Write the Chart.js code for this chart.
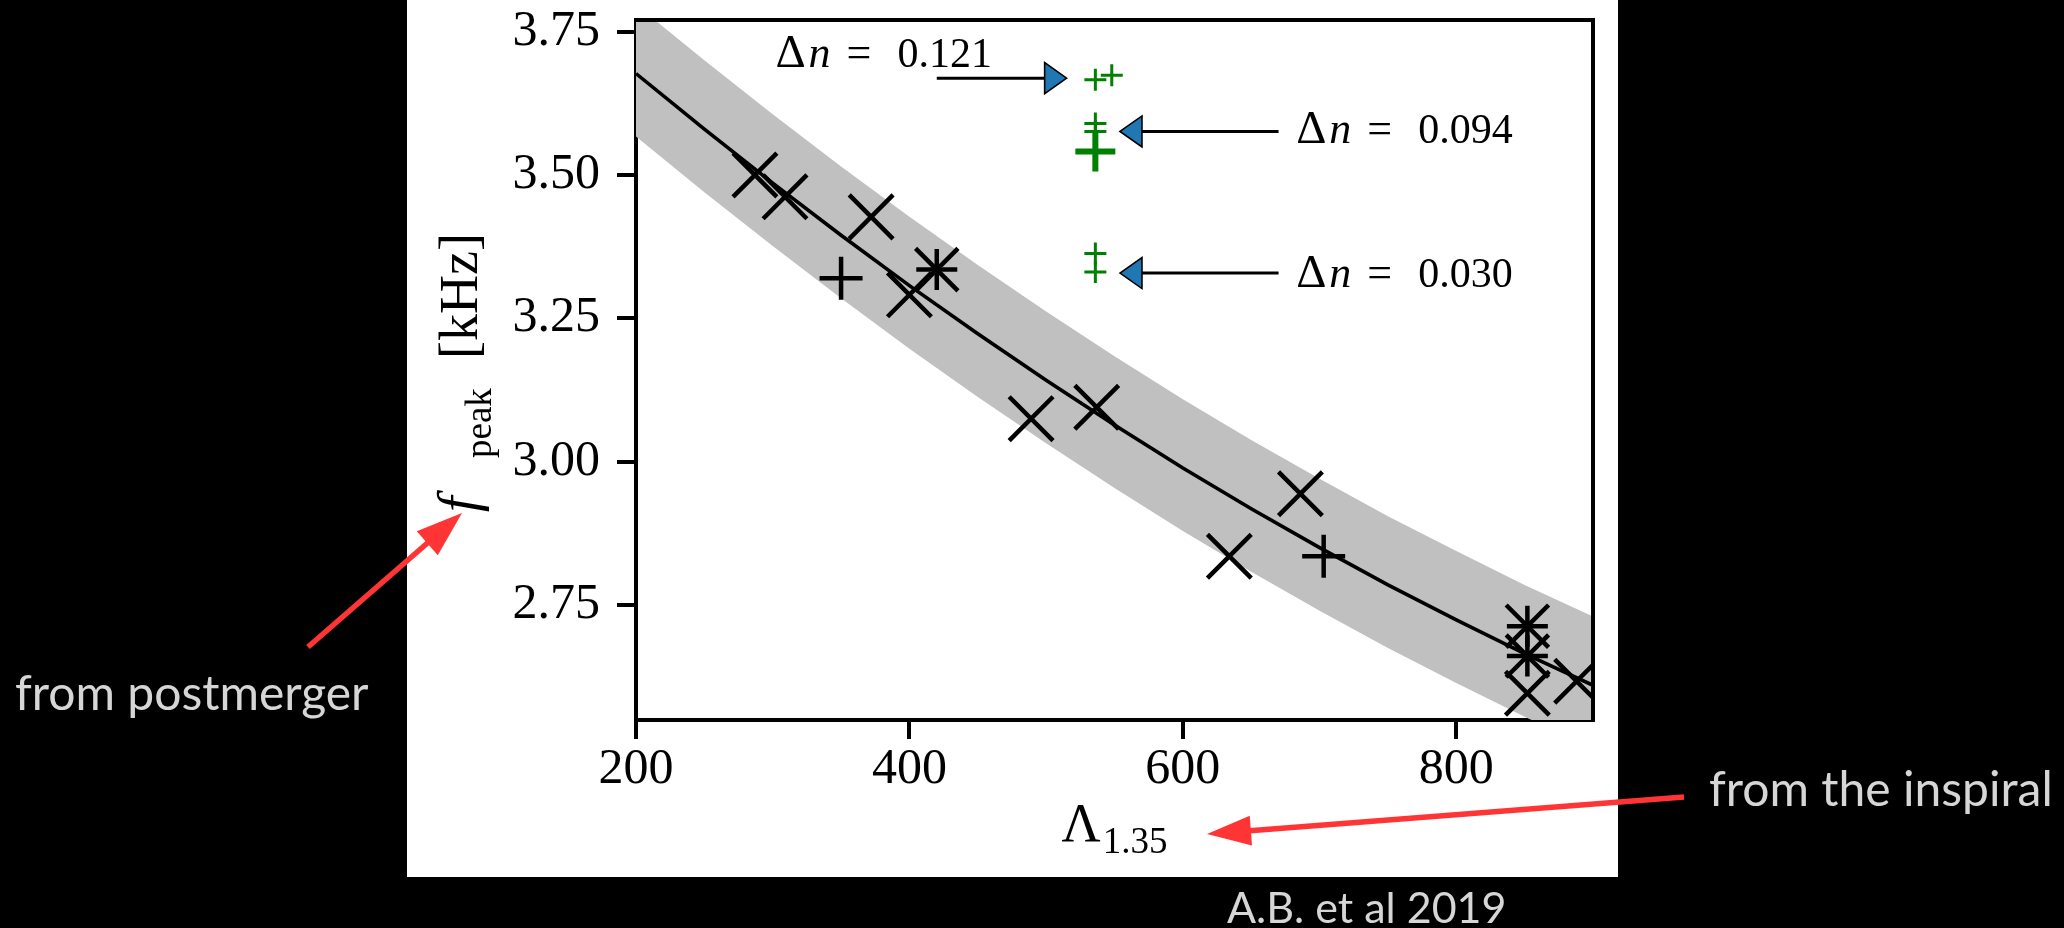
<!DOCTYPE html>
<html>
<head>
<meta charset="utf-8">
<script src="https://cdn.jsdelivr.net/npm/chart.js@4.4.1/dist/chart.umd.min.js"></script>
<style>
html,body{margin:0;padding:0;background:#000;overflow:hidden}
canvas{display:block}
</style>
</head>
<body>
<canvas id="c" width="2064" height="928"></canvas>
<script>
// ---------------- data ----------------
const xTicks = [200, 400, 600, 800];
const yTicks = [2.75, 3.00, 3.25, 3.50, 3.75];

// fit curve and grey band, sampled along Lambda_1.35
const lambdaGrid = [200, 250, 300, 350, 400, 450, 500, 550, 600, 650, 700, 750, 800, 850, 900];
const fitCurve   = [3.677, 3.580, 3.486, 3.395, 3.307, 3.223, 3.142, 3.064, 2.989, 2.918, 2.850, 2.785, 2.724, 2.665, 2.610];
const bandUpper  = [3.797, 3.700, 3.606, 3.515, 3.427, 3.343, 3.262, 3.184, 3.109, 3.038, 2.970, 2.905, 2.844, 2.785, 2.730];
const bandLower  = [3.567, 3.470, 3.376, 3.285, 3.197, 3.113, 3.032, 2.954, 2.879, 2.808, 2.740, 2.675, 2.614, 2.555, 2.500];

// black "x" markers
const xMarkLambda = [287, 309, 372, 400, 489, 537, 634, 686, 852, 888];
const xMarkF      = [3.500, 3.462, 3.427, 3.291, 3.075, 3.095, 2.835, 2.944, 2.596, 2.617];
// black "+" markers
const plusLambda = [350, 703];
const plusF      = [3.320, 2.835];
// black asterisks (+ and x on top of each other)
const starLambda = [420, 852, 852];
const starF      = [3.335, 2.713, 2.661];
// green "+" markers (strong phase transition)
const greenLambda = [536, 548, 536, 536, 536, 536];
const greenF      = [3.666, 3.674, 3.590, 3.576, 3.363, 3.331];
const greenBigLambda = [536];
const greenBigF      = [3.541];

// annotations
const deltaNValues = ['0.121', '0.094', '0.030'];
const labelLambda  = [302, 683, 683];
const labelF       = [3.689, 3.555, 3.305];
const arrowTailLambda = [420, 670, 670];
const arrowTipLambda  = [515, 554, 554];
const arrowF          = [3.669, 3.576, 3.329];

// ---------------- helpers ----------------
const SERIF = '"Liberation Serif", "DejaVu Serif", serif';
const SANS = 'Lato, "Open Sans", sans-serif';
const pts = (xs, ys) => xs.map((x, i) => ({x: x, y: ys[i]}));

function arrow(ctx, x1, y1, x2, y2, headLen, headHalf, lw, lineColor, headFill, headStroke) {
  const dx = x2 - x1, dy = y2 - y1, L = Math.hypot(dx, dy);
  const ux = dx / L, uy = dy / L;
  const bx = x2 - ux * headLen, by = y2 - uy * headLen;
  ctx.save();
  ctx.strokeStyle = lineColor; ctx.lineWidth = lw; ctx.lineCap = 'butt';
  ctx.beginPath(); ctx.moveTo(x1, y1); ctx.lineTo(bx + ux * 1, by + uy * 1); ctx.stroke();
  ctx.beginPath();
  ctx.moveTo(x2, y2);
  ctx.lineTo(bx - uy * headHalf, by + ux * headHalf);
  ctx.lineTo(bx + uy * headHalf, by - ux * headHalf);
  ctx.closePath();
  ctx.fillStyle = headFill; ctx.fill();
  if (headStroke) { ctx.strokeStyle = headStroke; ctx.lineWidth = 1.6; ctx.lineJoin = 'miter'; ctx.stroke(); }
  ctx.restore();
}

function drawDeltaN(ctx, x, y, value) {
  ctx.save();
  ctx.fillStyle = '#000'; ctx.textAlign = 'left'; ctx.textBaseline = 'alphabetic';
  ctx.font = '47px ' + SERIF; ctx.fillText('\u0394', x, y);
  ctx.font = 'italic 44px ' + SERIF; ctx.fillText('n', x + 33, y);
  ctx.font = '44px ' + SERIF; ctx.fillText('=', x + 71, y);
  ctx.font = '42px ' + SERIF; ctx.fillText(value, x + 122, y);
  ctx.restore();
}

const pagePlugin = {
  id: 'page',
  beforeDraw(chart) {
    const ctx = chart.ctx;
    ctx.save();
    ctx.fillStyle = '#000'; ctx.fillRect(0, 0, chart.width, chart.height);
    ctx.fillStyle = '#fff'; ctx.fillRect(407, 0, 1211, 877);
    ctx.restore();
  },
  afterDatasetsDraw(chart) {
    const ctx = chart.ctx, a = chart.chartArea;
    ctx.save();
    ctx.strokeStyle = '#000'; ctx.lineWidth = 4;
    ctx.beginPath();
    ctx.moveTo(a.left - 2, a.top); ctx.lineTo(a.right, a.top); ctx.lineTo(a.right, a.bottom + 2);
    ctx.stroke();
    ctx.restore();
  },
  afterDraw(chart) {
    const ctx = chart.ctx, a = chart.chartArea;
    const sx = chart.scales.x, sy = chart.scales.y;

    // annotation arrows and labels
    for (let i = 0; i < deltaNValues.length; i++) {
      const y = sy.getPixelForValue(arrowF[i]);
      arrow(ctx, sx.getPixelForValue(arrowTailLambda[i]), y, sx.getPixelForValue(arrowTipLambda[i]), y,
            22, 15.5, 3, '#000', '#1f77b4', '#000');
      drawDeltaN(ctx, sx.getPixelForValue(labelLambda[i]), sy.getPixelForValue(labelF[i]), deltaNValues[i]);
    }

    // x axis title: Lambda_{1.35}
    ctx.save();
    ctx.fillStyle = '#000'; ctx.textBaseline = 'alphabetic'; ctx.textAlign = 'left';
    ctx.font = '54px ' + SERIF;
    const wL = ctx.measureText('\u039B').width;
    ctx.font = '37px ' + SERIF;
    const wS = ctx.measureText('1.35').width;
    const cx = (a.left + a.right) / 2;
    const x0 = cx - (wL + 2 + wS) / 2;
    ctx.font = '54px ' + SERIF; ctx.fillText('\u039B', x0, 841);
    ctx.font = '37px ' + SERIF; ctx.fillText('1.35', x0 + wL + 2, 853);
    ctx.restore();

    // y axis title: f_peak [kHz]
    ctx.save();
    ctx.translate(477, 516);
    ctx.rotate(-Math.PI / 2);
    ctx.fillStyle = '#000'; ctx.textBaseline = 'alphabetic'; ctx.textAlign = 'left';
    ctx.font = 'italic 56px ' + SERIF; ctx.fillText('f', 4, 0);
    ctx.font = '37px ' + SERIF; ctx.fillText('peak', 58, 14);
    ctx.font = '54px ' + SERIF; ctx.fillText('[kHz]', 157, 0);
    ctx.restore();

    // slide annotations (outside the figure)
    ctx.save();
    ctx.fillStyle = '#d6d6d6'; ctx.textBaseline = 'alphabetic'; ctx.textAlign = 'left';
    ctx.font = '48px ' + SANS;
    ctx.fillText('from postmerger', 15, 710);
    ctx.fillText('from the inspiral', 1709, 806);
    ctx.font = '43px ' + SANS;
    ctx.fillText('A.B. et al 2019', 1227, 923);
    ctx.restore();

    arrow(ctx, 308, 647, 462, 513, 46, 16, 5.5, '#ff3535', '#ff3535', null);
    arrow(ctx, 1684, 797, 1207, 834, 44, 15, 5.5, '#ff3535', '#ff3535', null);
  }
};

const tickGrid = {
  display: true, drawOnChartArea: false, drawTicks: true,
  tickLength: 19, tickWidth: 4, tickColor: '#000', color: '#000', lineWidth: 4
};

new Chart(document.getElementById('c'), {
  type: 'scatter',
  data: {
    datasets: [
      { // grey band (upper edge, filled down to the lower edge)
        label: 'band upper', data: pts(lambdaGrid, bandUpper), showLine: true, tension: 0,
        borderColor: 'rgba(0,0,0,0)', borderWidth: 1, pointRadius: 0,
        backgroundColor: '#c0c0c0', fill: '+1', order: 10, clip: 0
      },
      {
        label: 'band lower', data: pts(lambdaGrid, bandLower), showLine: true, tension: 0,
        borderColor: 'rgba(0,0,0,0)', borderWidth: 1, pointRadius: 0, fill: false, order: 9, clip: 0
      },
      {
        label: 'fit', data: pts(lambdaGrid, fitCurve), showLine: true, tension: 0,
        borderColor: '#000', borderWidth: 3.6, pointRadius: 0, fill: false, order: 5, clip: 0
      },
      {
        label: 'x', data: pts(xMarkLambda, xMarkF), pointStyle: 'crossRot', pointRadius: 31,
        borderColor: '#000', borderWidth: 4.5, order: 2, clip: 0
      },
      {
        label: '+', data: pts(plusLambda, plusF), pointStyle: 'cross', pointRadius: 21.5,
        borderColor: '#000', borderWidth: 4.5, order: 2, clip: 0
      },
      {
        label: 'star +', data: pts(starLambda, starF), pointStyle: 'cross', pointRadius: 20.5,
        borderColor: '#000', borderWidth: 4.5, order: 2, clip: 0
      },
      {
        label: 'star x', data: pts(starLambda, starF), pointStyle: 'crossRot', pointRadius: 30,
        borderColor: '#000', borderWidth: 4.5, order: 2, clip: 0
      },
      {
        label: 'green', data: pts(greenLambda, greenF), pointStyle: 'cross', pointRadius: 11,
        borderColor: '#008000', borderWidth: 3, order: 1, clip: 0
      },
      {
        label: 'green big', data: pts(greenBigLambda, greenBigF), pointStyle: 'cross', pointRadius: 20,
        borderColor: '#008000', borderWidth: 6, order: 1, clip: 0
      }
    ]
  },
  options: {
    responsive: false, animation: false, devicePixelRatio: 1, events: [],
    layout: { autoPadding: false, padding: { left: 406, right: 471, top: 20, bottom: 0 } },
    plugins: { legend: { display: false }, tooltip: { enabled: false } },
    elements: { point: { hoverRadius: 0 } },
    scales: {
      x: {
        type: 'linear', min: 200, max: 900,
        grid: tickGrid,
        border: { display: true, color: '#000', width: 4 },
        ticks: { color: '#000', font: { family: SERIF, size: 50 }, padding: 1, autoSkip: false, maxRotation: 0,
                 callback: (v) => String(v) },
        afterBuildTicks: (s) => { s.ticks = xTicks.map(v => ({ value: v })); },
        afterFit: (s) => { s.height = 208; s.paddingLeft = 0; s.paddingRight = 0; }
      },
      y: {
        type: 'linear', min: 2.5494, max: 3.7704,
        grid: tickGrid,
        border: { display: true, color: '#000', width: 4 },
        ticks: { color: '#000', font: { family: SERIF, size: 50 }, padding: 17, autoSkip: false,
                 callback: (v) => Number(v).toFixed(2) },
        afterBuildTicks: (s) => { s.ticks = yTicks.map(v => ({ value: v })); },
        afterFit: (s) => { s.width = 230; s.paddingTop = 0; s.paddingBottom = 0; }
      }
    }
  },
  plugins: [pagePlugin]
});
</script>
</body>
</html>
